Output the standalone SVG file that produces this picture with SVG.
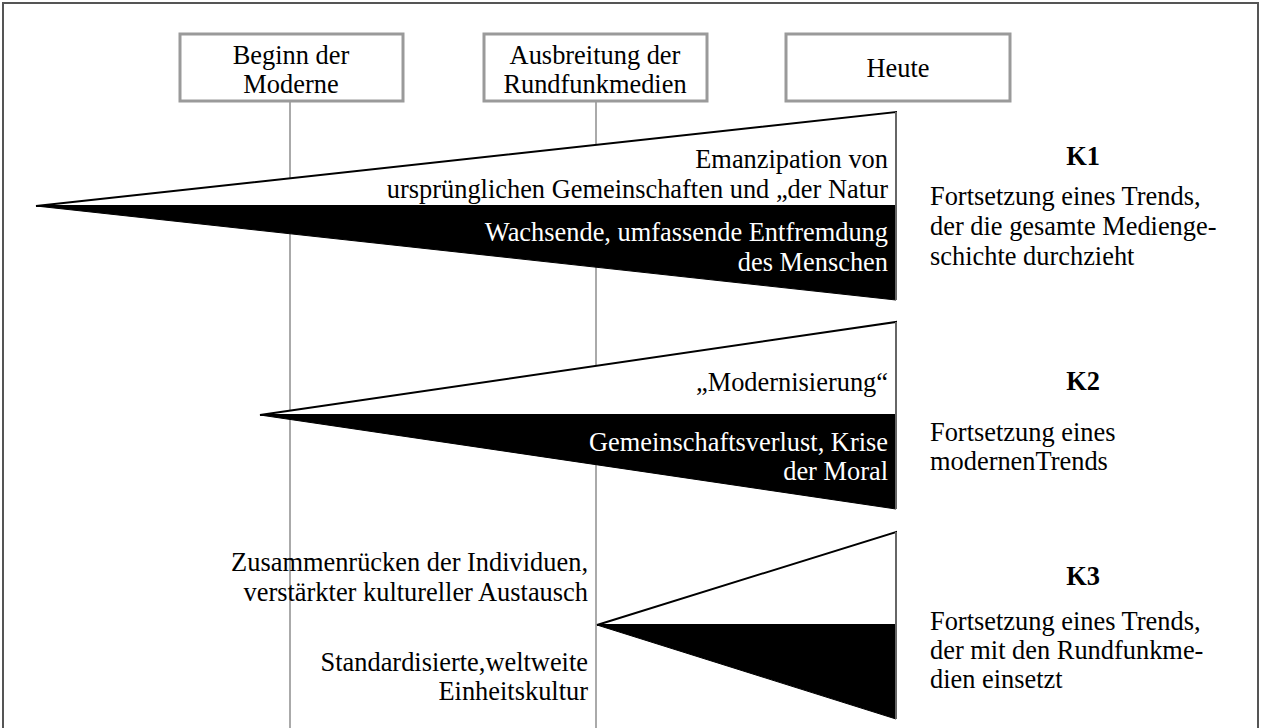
<svg xmlns="http://www.w3.org/2000/svg" width="1262" height="728" viewBox="0 0 1262 728">
<style>
text{font-family:"Liberation Serif","Times New Roman",serif;font-size:26.4px;fill:#000}
.r{text-anchor:end}
.c{text-anchor:middle}
.w{fill:#fff}
.k{font-weight:bold;text-anchor:middle}
.box{fill:#fff;stroke:#9a9a9a;stroke-width:3}
.vl{stroke:#aaa;stroke-width:2;fill:none}
.up{fill:#fff;stroke:#000;stroke-width:2}
.dn{fill:#000;stroke:#000;stroke-width:1}
.edge{stroke:#666;stroke-width:2}
</style>
<rect x="0" y="0" width="1262" height="728" fill="#fff"/>
<path d="M3 728 V3 H1258 V728" fill="none" stroke="#555" stroke-width="2"/>
<g id="connectors">
<line class="vl" x1="290" y1="101" x2="290" y2="728"/>
<line class="vl" x1="596" y1="101" x2="596" y2="728"/>
</g>
<g id="n-beginn">
<rect class="box" x="180" y="34" width="223" height="67"/>
<text class="c" x="291" y="64">Beginn der</text>
<text class="c" x="291" y="93">Moderne</text>
</g>
<g id="n-ausbreitung">
<rect class="box" x="484" y="34" width="223" height="67"/>
<text class="c" x="595" y="64">Ausbreitung der</text>
<text class="c" x="595" y="93">Rundfunkmedien</text>
</g>
<g id="n-heute">
<rect class="box" x="786" y="34" width="224" height="67"/>
<text class="c" x="898" y="77">Heute</text>
</g>
<g id="k1-wedge">
<polygon class="up" points="36,206 896,112 896,206"/>
<polygon class="dn" points="36,206 896,206 896,300"/>
<line class="edge" x1="896" y1="112" x2="896" y2="300"/>
<text class="r" x="888" y="168">Emanzipation von</text>
<text class="r" x="888" y="198">ursprünglichen Gemeinschaften und „der Natur</text>
<text class="r w" x="888" y="241">Wachsende, umfassende Entfremdung</text>
<text class="r w" x="888" y="271">des Menschen</text>
</g>
<g id="k2-wedge">
<polygon class="up" points="260,415 896,322 896,415"/>
<polygon class="dn" points="260,415 896,415 896,509"/>
<line class="edge" x1="896" y1="322" x2="896" y2="509"/>
<text class="r" x="888" y="391">„Modernisierung“</text>
<text class="r w" x="888" y="451">Gemeinschaftsverlust, Krise</text>
<text class="r w" x="888" y="480">der Moral</text>
</g>
<g id="k3-wedge">
<polygon class="up" points="597,625 896,532 896,625"/>
<polygon class="dn" points="597,625 896,625 896,719"/>
<line class="edge" x1="896" y1="532" x2="896" y2="719"/>
<text class="r" x="588" y="571">Zusammenrücken der Individuen,</text>
<text class="r" x="588" y="601">verstärkter kultureller Austausch</text>
<text class="r" x="588" y="671">Standardisierte,weltweite</text>
<text class="r" x="588" y="700">Einheitskultur</text>
</g>
<g id="k1-label">
<text class="k" x="1083" y="165">K1</text>
<text x="930" y="205">Fortsetzung eines Trends,</text>
<text x="930" y="235">der die gesamte Medienge-</text>
<text x="930" y="265">schichte durchzieht</text>
</g>
<g id="k2-label">
<text class="k" x="1083" y="390">K2</text>
<text x="930" y="441">Fortsetzung eines</text>
<text x="930" y="470">modernenTrends</text>
</g>
<g id="k3-label">
<text class="k" x="1083" y="585">K3</text>
<text x="930" y="630">Fortsetzung eines Trends,</text>
<text x="930" y="659">der mit den Rundfunkme-</text>
<text x="930" y="688">dien einsetzt</text>
</g>
</svg>
